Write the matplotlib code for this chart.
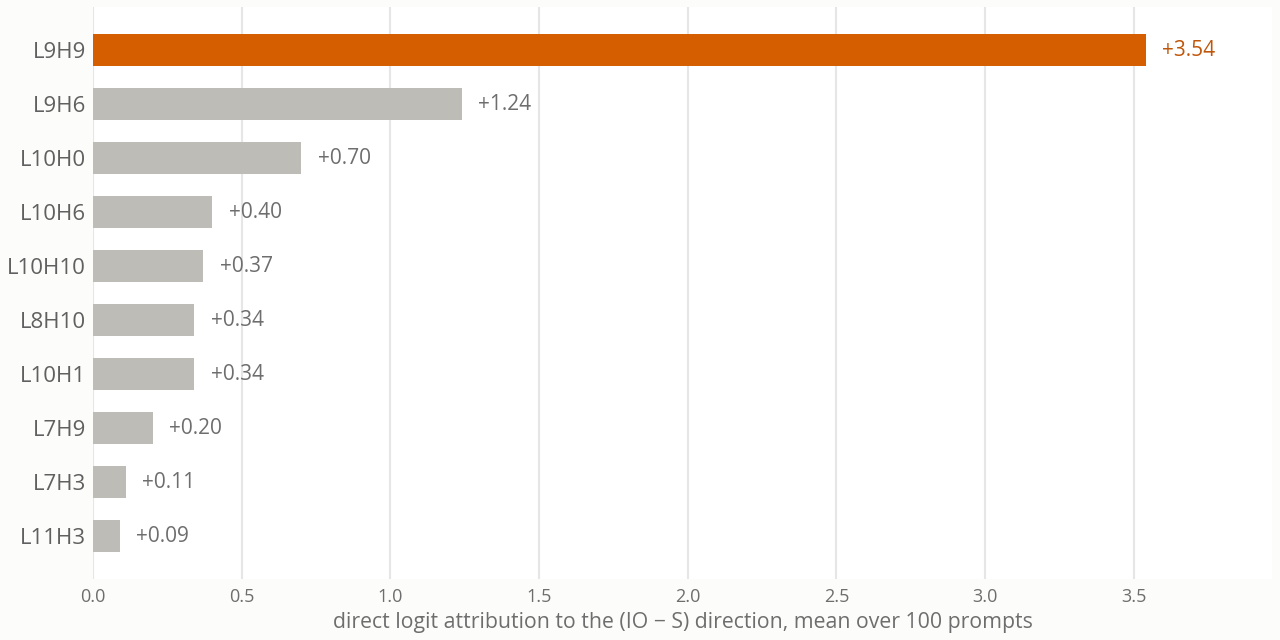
import matplotlib
matplotlib.use("Agg")
import matplotlib.pyplot as plt

heads = ["L9H9", "L9H6", "L10H0", "L10H6", "L10H10", "L8H10", "L10H1", "L7H9", "L7H3", "L11H3"]
values = [3.54, 1.24, 0.70, 0.40, 0.37, 0.34, 0.34, 0.20, 0.11, 0.09]
xticks = [0.0, 0.5, 1.0, 1.5, 2.0, 2.5, 3.0, 3.5]

plt.rcParams['font.family'] = ['Open Sans', 'DejaVu Sans']

fig = plt.figure(figsize=(12.8, 6.4), dpi=100, facecolor="#FCFCFA")
ax = fig.add_axes([0.0727, 0.095, 0.921, 0.894])
ax.set_facecolor("white")

colors = ["#D55E00"] + ["#BDBCB6"] * (len(values) - 1)
ypos = list(range(len(heads)))
ax.barh(ypos, values, height=0.6, color=colors, zorder=3)
ax.set_ylim(len(heads) - 0.2, -0.8)
ax.set_xlim(0, max(values) * 1.12)
ax.set_yticks(ypos)
ax.set_yticklabels(heads, fontsize=16, color="#606060")
ax.set_xticks(xticks)
ax.set_xticklabels([f"{t:.1f}" for t in xticks], fontsize=13, color="#6E6E6E")
ax.tick_params(length=0, pad=6)
ax.tick_params(axis='y', pad=5)
for s in ax.spines.values():
    s.set_visible(False)
ax.grid(axis='x', color="#E6E6E6", linewidth=1.5, zorder=0)
ax.set_axisbelow(True)

for i, v in enumerate(values):
    c = "#C0560A" if i == 0 else "#6E6E6E"
    ax.annotate(f"+{v:.2f}", (v, i), xytext=(12, 0), textcoords="offset points",
                va="center", ha="left", fontsize=15, color=c)

ax.set_xlabel("direct logit attribution to the (IO \u2212 S) direction, mean over 100 prompts",
              fontsize=15.3, color="#6E6E6E", labelpad=5)

fig.savefig("out.png", dpi=100, facecolor=fig.get_facecolor())
